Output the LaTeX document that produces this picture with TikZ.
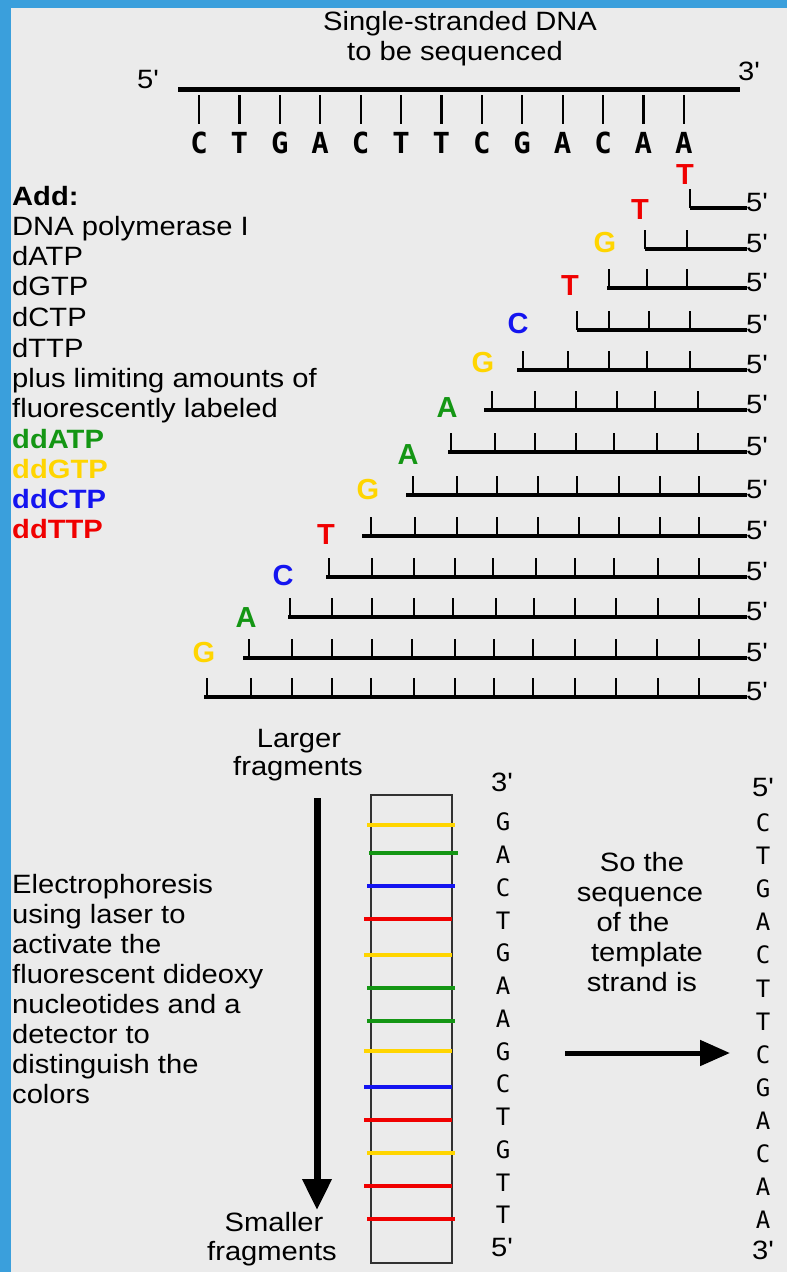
\documentclass[tikz,border=0pt]{standalone}
\usepackage{fontspec}
\usetikzlibrary{arrows.meta}
\setmainfont{Liberation Sans}[FakeStretch=1.1, Ligatures=TeXOff]
\newfontfamily\monof{DejaVu Sans Mono}[Ligatures=TeXOff]
\newfontfamily\plainf{Liberation Sans}[Ligatures=TeXOff]
\definecolor{bgblue}{RGB}{58,159,220}
\definecolor{bggray}{RGB}{235,235,235}
\definecolor{dred}{RGB}{240,0,0}
\definecolor{dgreen}{RGB}{20,150,20}
\definecolor{dyellow}{RGB}{255,213,0}
\definecolor{dblue}{RGB}{20,20,240}
\definecolor{boxgray}{RGB}{50,50,50}
\begin{document}
\begin{tikzpicture}[x=1pt,y=-1pt,
  txt/.style={inner sep=0pt, font=\fontsize{26.5}{30}\selectfont},
  btxt/.style={inner sep=0pt, font=\fontsize{26.5}{30}\selectfont\bfseries},
  seqletter/.style={inner sep=0pt, font=\monof\bfseries\fontsize{29}{30}\selectfont},
  gelletter/.style={inner sep=0pt, font=\monof\fontsize{24}{26}\selectfont},
  ddletter/.style={inner sep=0pt, font=\plainf\bfseries\fontsize{29}{30}\selectfont},
  strand/.style={line width=5pt},
  fragline/.style={line width=4pt},
  tickline/.style={line width=2.2pt},
  gelbox/.style={draw=boxgray, line width=2.5pt},
  band/.style={line width=4pt},
  bigarrow/.style={line width=7pt, -{Triangle[width=28pt,length=31pt]}},
  sidearrow/.style={line width=5pt, -{Triangle[width=25pt,length=30pt]}}]
\useasboundingbox (0,0) rectangle (787,1272);
\fill[bgblue] (0,0) rectangle (787,1272);
\fill[bggray] (11,8) rectangle (787,1272);

% title
\node[txt,anchor=base] (title1) at (460,30) {Single-stranded DNA};
\node[txt,anchor=base] (title2) at (455,60) {to be sequenced};
\node[txt,anchor=base west] (t5) at (137,88) {5'};
\node[txt,anchor=base west] (t3) at (738,80) {3'};
\coordinate (sL) at (178,89);
\coordinate (sR) at (740,89);
\draw[strand] (sL) -- (sR);
\foreach \b [count=\i] in {C,T,G,A,C,T,T,C,G,A,C,A,A} {
  \draw[tickline] ({199+40.4*(\i-1)},95) -- ({199+40.4*(\i-1)},124);
  \node[seqletter,anchor=base] (s\i) at ({199+40.4*(\i-1)},153) {\b};
}

% Add list
\node[btxt,anchor=base west] (add) at (12,205) {Add:};
\node[txt,anchor=base west] (l1) at (12,235) {DNA polymerase I};
\node[txt,anchor=base west] (l2) at (12,265) {dATP};
\node[txt,anchor=base west] (l3) at (12,295) {dGTP};
\node[txt,anchor=base west] (l4) at (12,326) {dCTP};
\node[txt,anchor=base west] (l5) at (12,357) {dTTP};
\node[txt,anchor=base west] (l6) at (12,387) {plus limiting amounts of};
\node[txt,anchor=base west] (l7) at (12,417) {fluorescently labeled};
\node[btxt,anchor=base west,text=dgreen] (l8) at (12,448) {ddATP};
\node[btxt,anchor=base west,text=dyellow] (l9) at (12,478) {ddGTP};
\node[btxt,anchor=base west,text=dblue] (l10) at (12,508) {ddCTP};
\node[btxt,anchor=base west,text=dred] (l11) at (12,538) {ddTTP};

% fragments
\foreach \y/\s/\ticks/\lx/\ly/\L/\c [count=\i] in {
  208/690/{690}/685/175/T/dred,
  249/645/{645,687}/640/210/T/dred,
  288/607/{609,647,687}/605/243/G/dyellow,
  330/577/{577,609,649,690}/570/286/T/dred,
  370/517/{523,568,609,647,690}/518/324/C/dblue,
  410/484/{492,535,576,617,655,698}/483/363/G/dyellow,
  452/448/{451,495,535,576,614,657,698}/447/408/A/dgreen,
  495/406/{413,457,497,538,577,619,660,699}/408/455/A/dgreen,
  536/362/{371,415,457,497,538,579,619,660,699}/368/490/G/dyellow,
  577/326/{329,372,414,455,493,536,575,614,658,699}/326/535/T/dred,
  617/288/{290,332,372,414,453,496,534,575,616,658,699}/283/576/C/dblue,
  658/243/{249,292,332,372,412,455,494,533,575,616,657,699}/246/618/A/dgreen,
  697/204/{207,251,292,332,371,414,455,494,533,575,616,658,699}/204/653/G/dyellow} {
  \coordinate (fa\i) at (\s,\y);
  \coordinate (fb\i) at (747,\y);
  \draw[fragline] (fa\i) -- (fb\i);
  \foreach \t in \ticks { \draw[tickline] (\t,\y) -- (\t,\y-19); }
  \node[txt,anchor=base west] (f5\i) at (746,\y+3) {5'};
  \node[ddletter,text=\c] (dd\i) at (\lx,\ly) {\L};
}

% electrophoresis
\node[txt,anchor=base] (larger1) at (299,747) {Larger};
\node[txt,anchor=base] (larger2) at (298,775) {fragments};
\node[txt,anchor=base] (smaller1) at (274,1231) {Smaller};
\node[txt,anchor=base] (smaller2) at (272,1260) {fragments};
\coordinate (aTop) at (317,798);
\coordinate (aBot) at (317,1210);
\draw[bigarrow] (aTop) -- (aBot);

\foreach \t [count=\i] in {Electrophoresis, using laser to, activate the, fluorescent dideoxy, nucleotides and a, detector to, distinguish the, colors}
  \node[txt,anchor=base west] (ep\i) at (12,{893+30*(\i-1)}) {\t};

\node[gelbox,minimum width=81pt,minimum height=468pt,inner sep=0pt] (gel) at (411.5,1029) {};
\foreach \yy/\a/\b/\c in {825/367/455/dyellow, 853/369/458/dgreen, 886/367/455/dblue, 919/364/452/dred,
  955/364/452/dyellow, 988/367/455/dgreen, 1021/367/455/dgreen, 1051/364/452/dyellow,
  1087/364/452/dblue, 1120/364/452/dred, 1153/367/455/dyellow, 1186/364/452/dred, 1219/367/455/dred}
  \draw[band,\c] (\a,\yy) -- (\b,\yy);

% left read column
\node[txt] (lc3) at (502,782) {3'};
\foreach \b [count=\i] in {G,A,C,T,G,A,A,G,C,T,G,T,T}
  \node[gelletter] (lc\i) at (503,{822+32.75*(\i-1)}) {\b};
\node[txt] (lc5) at (502,1247) {5'};

% right read column
\node[txt] (rc5) at (763,788) {5'};
\foreach \b [count=\i] in {C,T,G,A,C,T,T,C,G,A,C,A,A}
  \node[gelletter] (rc\i) at (763,{823+33.05*(\i-1)}) {\b};
\node[txt] (rc3) at (763,1250) {3'};

% so the sequence
\node[txt,anchor=base] (so1) at (642,871) {So the};
\node[txt,anchor=base] (so2) at (640,901) {sequence};
\node[txt,anchor=base] (so3) at (633,931) {of the};
\node[txt,anchor=base] (so4) at (647,961) {template};
\node[txt,anchor=base] (so5) at (642,991) {strand is};
\coordinate (hL) at (565,1053);
\coordinate (hR) at (730,1053);
\draw[sidearrow] (hL) -- (hR);
\end{tikzpicture}
\end{document}
